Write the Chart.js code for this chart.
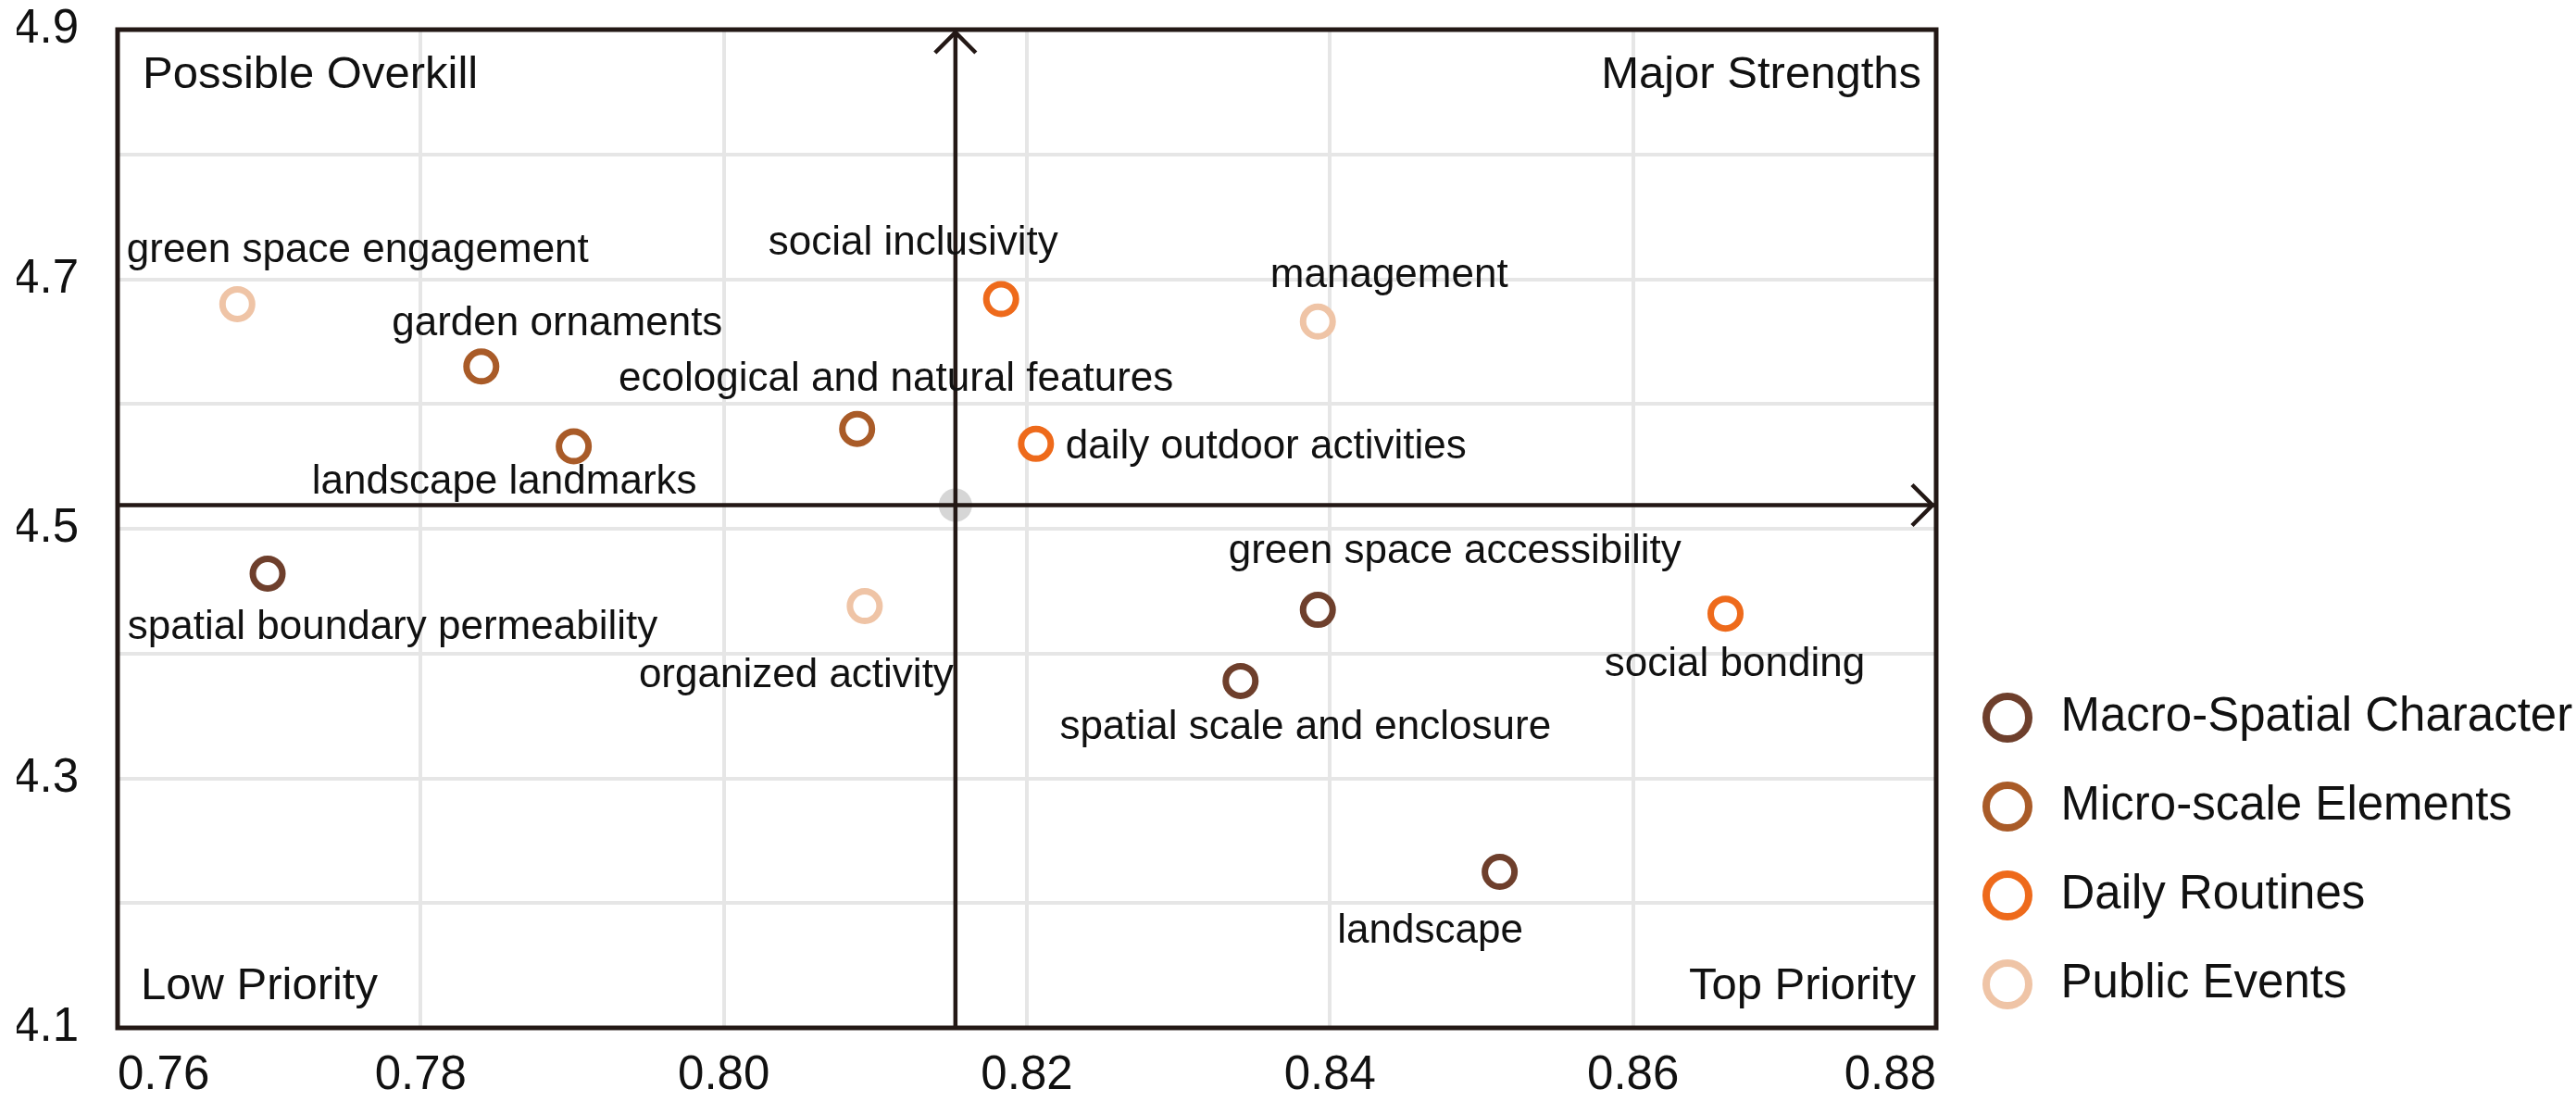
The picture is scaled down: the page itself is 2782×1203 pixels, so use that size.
<!DOCTYPE html>
<html>
<head>
<meta charset="utf-8">
<script src="https://cdn.jsdelivr.net/npm/chart.js@4.4.1/dist/chart.umd.min.js"></script>
<style>
html,body{margin:0;padding:0;background:#ffffff;}
#wrap{width:2782px;height:1203px;}
</style>
</head>
<body>
<div id="wrap"><canvas id="c" width="2782" height="1203"></canvas></div>
<script>
// ---------- data ----------
const seriesNames = ['Macro-Spatial Character', 'Micro-scale Elements', 'Daily Routines', 'Public Events'];

const macroLabels = ['spatial boundary permeability', 'green space accessibility', 'spatial scale and enclosure', 'landscape'];
const macroX = [0.7699, 0.8392, 0.8341, 0.8512];
const macroY = [4.464, 4.435, 4.378, 4.225];

const microLabels = ['garden ornaments', 'landscape landmarks', 'ecological and natural features'];
const microX = [0.7840, 0.7901, 0.8088];
const microY = [4.630, 4.566, 4.580];

const dailyLabels = ['social inclusivity', 'daily outdoor activities', 'social bonding'];
const dailyX = [0.8183, 0.8206, 0.8661];
const dailyY = [4.684, 4.568, 4.432];

const publicLabels = ['green space engagement', 'management', 'organized activity'];
const publicX = [0.7679, 0.8392, 0.8093];
const publicY = [4.680, 4.666, 4.438];

const quadrantNames = ['Possible Overkill', 'Major Strengths', 'Low Priority', 'Top Priority'];

const xMin = 0.76, xMax = 0.88, xStep = 0.02;
const yMin = 4.1, yMax = 4.9, yStep = 0.1;

// ---------- styles ----------
const FONT = '"Liberation Sans", Arial, Helvetica, sans-serif';
const seriesColors = ['#6e3f2c', '#a95b28', '#ee6a1b', '#efc4a6'];
const axisColor = '#231815';

// label placement relative to its point (pixels): [dx, dy(baseline), align]
const labelPlacement = {
  'green space engagement': [130, -45, 'center'],
  'garden ornaments': [82, -34, 'center'],
  'social inclusivity': [-95, -48, 'center'],
  'management': [77, -37, 'center'],
  'ecological and natural features': [42, -41, 'center'],
  'daily outdoor activities': [32, 16, 'left'],
  'landscape landmarks': [-75, 51, 'center'],
  'spatial boundary permeability': [135, 70, 'center'],
  'organized activity': [-74, 87, 'center'],
  'green space accessibility': [148, -51, 'center'],
  'spatial scale and enclosure': [70, 63, 'center'],
  'social bonding': [10, 67, 'center'],
  'landscape': [-75, 76, 'center']
};

const groups = [
  {labels: macroLabels, xs: macroX, ys: macroY},
  {labels: microLabels, xs: microX, ys: microY},
  {labels: dailyLabels, xs: dailyX, ys: dailyY},
  {labels: publicLabels, xs: publicX, ys: publicY}
];

const datasets = groups.map((g, gi) => ({
  label: seriesNames[gi],
  data: g.xs.map((x, i) => ({x: x, y: g.ys[i], name: g.labels[i]})),
  pointStyle: 'circle',
  pointRadius: 16,
  pointHoverRadius: 16,
  pointBorderWidth: 7,
  pointHoverBorderWidth: 7,
  borderColor: seriesColors[gi],
  pointBorderColor: seriesColors[gi],
  backgroundColor: '#ffffff',
  pointBackgroundColor: '#ffffff',
  showLine: false
}));

// legend ring images
const legendRings = seriesColors.map(col => {
  const cv = document.createElement('canvas');
  cv.width = 64; cv.height = 64;
  const c = cv.getContext('2d');
  c.beginPath();
  c.arc(32, 32, 23, 0, Math.PI * 2);
  c.fillStyle = '#ffffff';
  c.fill();
  c.lineWidth = 8;
  c.strokeStyle = col;
  c.stroke();
  return cv;
});

function allValues(key) {
  const out = [];
  datasets.forEach(ds => ds.data.forEach(p => out.push(p[key])));
  return out;
}
const mean = arr => arr.reduce((a, b) => a + b, 0) / arr.length;

const quadPlugin = {
  id: 'quadrants',
  beforeDatasetsDraw(chart) {
    const {ctx, chartArea: a, scales: {x, y}} = chart;
    ctx.save();
    // frame
    ctx.strokeStyle = axisColor;
    ctx.lineWidth = 5;
    ctx.strokeRect(a.left, a.top, a.right - a.left, a.bottom - a.top);
    // mean point and crosshair
    const px = x.getPixelForValue(mean(allValues('x')));
    const py = y.getPixelForValue(mean(allValues('y')));
    ctx.fillStyle = 'rgba(200,200,200,0.75)';
    ctx.beginPath();
    ctx.arc(px, py, 18, 0, Math.PI * 2);
    ctx.fill();
    ctx.lineWidth = 4.5;
    ctx.beginPath();
    ctx.moveTo(a.left, py); ctx.lineTo(a.right - 2, py);
    ctx.moveTo(px, a.bottom); ctx.lineTo(px, a.top + 2);
    ctx.stroke();
    ctx.lineJoin = 'miter';
    ctx.beginPath();
    ctx.moveTo(px - 22, a.top + 25); ctx.lineTo(px, a.top + 3); ctx.lineTo(px + 22, a.top + 25);
    ctx.stroke();
    ctx.beginPath();
    ctx.moveTo(a.right - 26, py - 22); ctx.lineTo(a.right - 4, py); ctx.lineTo(a.right - 26, py + 22);
    ctx.stroke();
    ctx.restore();
  },
  afterDatasetsDraw(chart) {
    const {ctx, chartArea: a} = chart;
    ctx.save();
    ctx.fillStyle = '#111111';
    ctx.textBaseline = 'alphabetic';
    // quadrant titles
    ctx.font = '49px ' + FONT;
    ctx.textAlign = 'left';
    ctx.fillText(quadrantNames[0], a.left + 27, a.top + 63);
    ctx.fillText(quadrantNames[2], a.left + 25, a.bottom - 31);
    ctx.textAlign = 'right';
    ctx.fillText(quadrantNames[1], a.right - 16, a.top + 63);
    ctx.fillText(quadrantNames[3], a.right - 22, a.bottom - 31);
    // point labels
    ctx.font = '44px ' + FONT;
    chart.data.datasets.forEach((ds, di) => {
      const meta = chart.getDatasetMeta(di);
      meta.data.forEach((el, i) => {
        const name = ds.data[i].name;
        const pl = labelPlacement[name] || [0, -30, 'center'];
        ctx.textAlign = pl[2];
        ctx.fillText(name, el.x + pl[0], el.y + pl[1]);
      });
    });
    ctx.restore();
  }
};

Chart.defaults.font.family = FONT;
Chart.defaults.color = '#111111';

new Chart(document.getElementById('c'), {
  type: 'scatter',
  data: {datasets: datasets},
  options: {
    responsive: false,
    animation: false,
    devicePixelRatio: 1,
    layout: {padding: {left: 18, top: 32, bottom: 19, right: 0}},
    scales: {
      x: {
        type: 'linear',
        min: xMin, max: xMax,
        grid: {color: '#e6e6e6', lineWidth: 4, drawTicks: false},
        border: {display: false},
        afterFit(scale) { scale.height = 74; scale.paddingLeft = 0; scale.paddingRight = 0; },
        ticks: {
          stepSize: xStep,
          padding: 21,
          align: 'inner',
          font: {size: 51},
          color: '#111111',
          callback: v => Number(v).toFixed(2)
        }
      },
      y: {
        type: 'linear',
        min: yMin, max: yMax,
        grid: {color: '#e6e6e6', lineWidth: 4, drawTicks: false},
        border: {display: false},
        afterFit(scale) { scale.width = 109; scale.paddingTop = 0; scale.paddingBottom = 0; },
        ticks: {
          stepSize: yStep,
          padding: 42,
          font: {size: 51},
          color: '#111111',
          callback: v => {
            const k = Math.round(v * 10);
            return (k % 2 === 1) ? (k / 10).toFixed(1) : '';
          }
        }
      }
    },
    plugins: {
      title: {display: false},
      tooltip: {enabled: false},
      legend: {
        display: true,
        position: 'right',
        align: 'start',
        fullSize: true,
        title: {display: true, text: '', font: {size: 12}, padding: {top: 0, bottom: 658.1}},
        labels: {
          usePointStyle: true,
          pointStyleWidth: 64,
          padding: 45,
          color: '#111111',
          font: {size: 51},
          generateLabels(chart) {
            const items = Chart.defaults.plugins.legend.labels.generateLabels(chart);
            items.forEach(it => { it.pointStyle = legendRings[it.datasetIndex]; });
            return items;
          }
        }
      }
    }
  },
  plugins: [quadPlugin]
});
</script>
</body>
</html>
